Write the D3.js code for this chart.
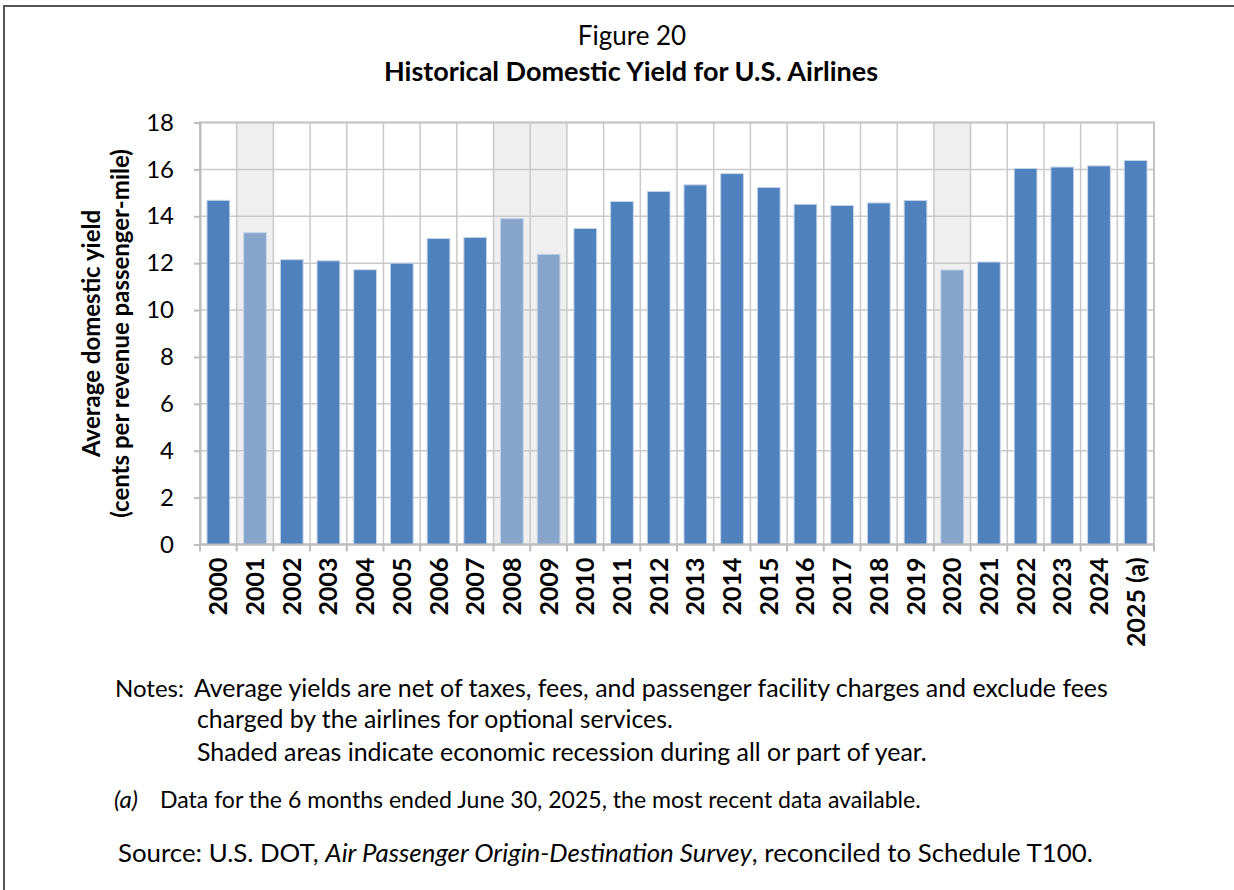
<!DOCTYPE html>
<html>
<head>
<meta charset="utf-8">
<script src="https://cdn.jsdelivr.net/npm/d3@7"></script>
<style>
  body { margin: 0; background: #fff; }
  text { font-family: Lato, "Open Sans", sans-serif; fill: #000; }
</style>
</head>
<body>
<script>
var width = 1234,
    height = 890;

// data
var years = ["2000", "2001", "2002", "2003", "2004", "2005", "2006", "2007", "2008",
  "2009", "2010", "2011", "2012", "2013", "2014", "2015", "2016", "2017", "2018",
  "2019", "2020", "2021", "2022", "2023", "2024", "2025 (a)"];
var yieldCents = [14.68, 13.3, 12.15, 12.1, 11.72, 12.0, 13.05, 13.1, 13.9,
  12.38, 13.48, 14.63, 15.06, 15.34, 15.82, 15.23, 14.51, 14.46, 14.57,
  14.67, 11.71, 12.05, 16.04, 16.1, 16.15, 16.38];
var recessionYears = ["2001", "2008", "2009", "2020"];
var yTicks = [0, 2, 4, 6, 8, 10, 12, 14, 16, 18];

var margin = {top: 122.5, right: 80, bottom: 345.5, left: 200};

var svg = d3.select("body")
  .append("svg")
  .attr("width", width)
  .attr("height", height);

// outer frame (left + top visible)
svg.append("line").attr("x1", 4).attr("x2", 4).attr("y1", 5).attr("y2", height)
  .attr("stroke", "#555").attr("stroke-width", 2);
svg.append("line").attr("x1", 3).attr("x2", width).attr("y1", 6).attr("y2", 6)
  .attr("stroke", "#555").attr("stroke-width", 2);

var x = d3.scaleBand()
  .domain(years)
  .range([margin.left, width - margin.right])
  .paddingInner(0.38)
  .paddingOuter(0.19);

var y = d3.scaleLinear()
  .domain([0, 18])
  .range([height - margin.bottom, margin.top]);

var step = x.step();
function catLeft(d) { return x(d) - x.paddingInner() * step / 2; }

// recession shading
svg.append("g")
  .selectAll("rect")
  .data(recessionYears)
  .enter().append("rect")
    .attr("x", catLeft)
    .attr("y", y(18))
    .attr("width", step)
    .attr("height", y(0) - y(18))
    .attr("fill", "#efefef");

// gridlines
svg.append("g")
  .selectAll("line")
  .data(yTicks)
  .enter().append("line")
    .attr("x1", x.range()[0])
    .attr("x2", x.range()[1])
    .attr("y1", function(d) { return y(d); })
    .attr("y2", function(d) { return y(d); })
    .attr("stroke", "#c9c9c9")
    .attr("stroke-width", 1.5);

svg.append("g")
  .selectAll("line")
  .data(years.slice(1))
  .enter().append("line")
    .attr("x1", catLeft)
    .attr("x2", catLeft)
    .attr("y1", y(18))
    .attr("y2", y(0))
    .attr("stroke", "#c9c9c9")
    .attr("stroke-width", 1.5);

// plot frame
svg.append("rect")
  .attr("x", x.range()[0])
  .attr("y", y(18))
  .attr("width", x.range()[1] - x.range()[0])
  .attr("height", y(0) - y(18))
  .attr("fill", "none")
  .attr("stroke", "#c4c4c4")
  .attr("stroke-width", 2);

// bars
svg.append("g")
  .selectAll("rect")
  .data(years)
  .enter().append("rect")
    .attr("x", function(d) { return x(d); })
    .attr("y", function(d, i) { return y(yieldCents[i]); })
    .attr("width", x.bandwidth())
    .attr("height", function(d, i) { return y(0) - y(yieldCents[i]); })
    .attr("fill", function(d) {
      return recessionYears.indexOf(d) >= 0 ? "#87a5cb" : "#4f81bd";
    })
    .attr("stroke", "#c5d5ea")
    .attr("stroke-width", 1);

// y axis
var yAxis = svg.append("g")
  .attr("transform", "translate(" + margin.left + ",0)")
  .call(d3.axisLeft(y).tickValues(yTicks).tickSize(6).tickPadding(20));
yAxis.select(".domain").attr("stroke", "#bdbdbd").attr("stroke-width", 2);
yAxis.selectAll(".tick line").attr("stroke", "#bdbdbd").attr("stroke-width", 2);
yAxis.selectAll(".tick text")
  .attr("font-family", "Lato, sans-serif")
  .attr("font-size", 24)
  .attr("fill", "#000");

// x axis: ticks sit on category boundaries
var xAxisG = svg.append("g")
  .attr("transform", "translate(0," + y(0) + ")");
xAxisG.append("line")
  .attr("x1", x.range()[0]).attr("x2", x.range()[1])
  .attr("stroke", "#bdbdbd").attr("stroke-width", 2);
xAxisG.selectAll(".tk")
  .data(years.concat(["end"]))
  .enter().append("line")
    .attr("class", "tk")
    .attr("x1", function(d, i) { return x.range()[0] + i * step; })
    .attr("x2", function(d, i) { return x.range()[0] + i * step; })
    .attr("y1", 0)
    .attr("y2", 7)
    .attr("stroke", "#bdbdbd")
    .attr("stroke-width", 2);
xAxisG.selectAll(".lbl")
  .data(years)
  .enter().append("text")
    .attr("class", "lbl")
    .attr("transform", function(d) {
      return "translate(" + (x(d) + x.bandwidth() / 2 + 9) + ",13) rotate(-90)";
    })
    .attr("text-anchor", "end")
    .attr("font-size", 25)
    .attr("font-weight", "bold")
    .text(function(d) { return d; });

// y title
var yTitle = svg.append("text")
  .attr("transform", "translate(100," + ((y(0) + y(18)) / 2) + ") rotate(-90)")
  .attr("text-anchor", "middle")
  .attr("font-size", 24)
  .attr("font-weight", "bold");
yTitle.append("tspan").attr("x", 0).attr("dy", 0).text("Average domestic yield");
yTitle.append("tspan").attr("x", 0).attr("dy", 29).text("(cents per revenue passenger-mile)");

// titles
svg.append("text")
  .attr("x", 632).attr("y", 45)
  .attr("text-anchor", "middle")
  .attr("font-size", 26)
  .text("Figure 20");
svg.append("text")
  .attr("x", 631).attr("y", 81)
  .attr("text-anchor", "middle")
  .attr("font-size", 27)
  .attr("font-weight", "bold")
  .text("Historical Domestic Yield for U.S. Airlines");

// notes: size each line so it spans roughly what the figure shows
function fit(t, w) {
  var fs = +t.attr("font-size");
  var len = t.node().getComputedTextLength();
  t.attr("font-size", (fs * w / len).toFixed(2));
}
var notes = svg.append("g");
notes.append("text").attr("x", 115).attr("y", 697).attr("font-size", 24).text("Notes:");
fit(notes.append("text").attr("x", 194).attr("y", 697).attr("font-size", 24)
  .text("Average yields are net of taxes, fees, and passenger facility charges and exclude fees"), 914);
fit(notes.append("text").attr("x", 197).attr("y", 728).attr("font-size", 24)
  .text("charged by the airlines for optional services."), 476);
fit(notes.append("text").attr("x", 197).attr("y", 761).attr("font-size", 24)
  .text("Shaded areas indicate economic recession during all or part of year."), 730);
notes.append("text").attr("x", 114).attr("y", 808).attr("font-size", 24)
  .attr("font-style", "italic").text("(a)");
fit(notes.append("text").attr("x", 160).attr("y", 808).attr("font-size", 24)
  .text("Data for the 6 months ended June 30, 2025, the most recent data available."), 761);
var src = notes.append("text").attr("x", 118).attr("y", 862).attr("font-size", 24);
src.append("tspan").text("Source:  U.S. DOT, ");
src.append("tspan").attr("font-style", "italic").text("Air Passenger Origin-Destination Survey");
src.append("tspan").text(", reconciled to Schedule T100.");
fit(src, 975);
</script>
</body>
</html>
